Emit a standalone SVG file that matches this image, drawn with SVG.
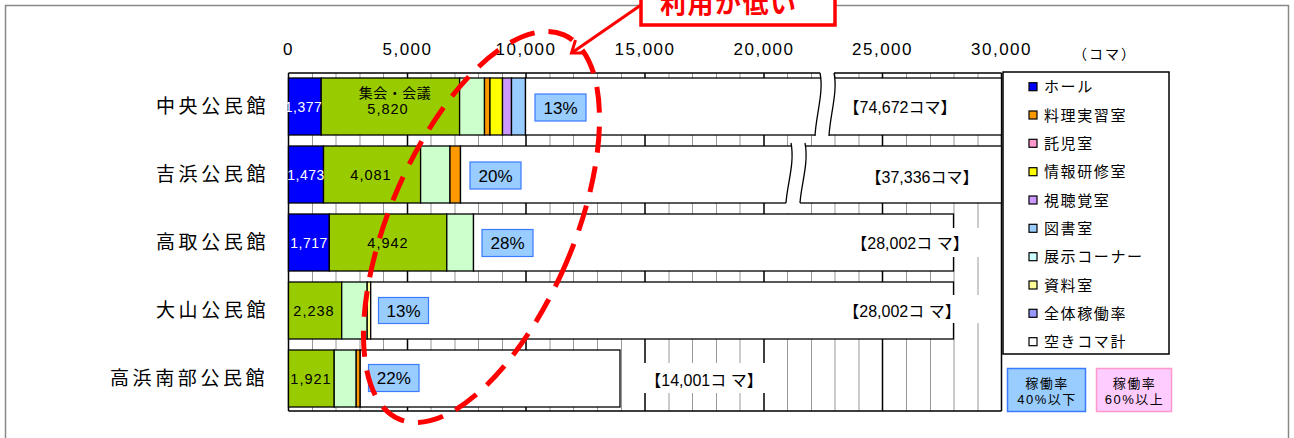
<svg xmlns="http://www.w3.org/2000/svg" width="1294" height="438" viewBox="0 0 1294 438">
<style>
text{font-family:"Liberation Sans","Noto Sans CJK JP",sans-serif;fill:#000}
.cat{font-size:19px;letter-spacing:3.6px}
.ax{font-size:17px;letter-spacing:1.5px;text-anchor:middle}
.g{stroke:#999;stroke-width:1}
.gm{stroke:#000;stroke-width:1.5}
.seg{stroke:#000;stroke-width:1.3}
.val{font-size:14.5px;letter-spacing:1px;text-anchor:middle}
.wt{fill:#fff}
.pct rect{fill:#99CCFF;stroke:#3A7BFF;stroke-width:1.2}
.pct text{font-size:17px;text-anchor:middle}
.tot{font-size:16px;text-anchor:middle}
.leg text{font-size:15px;letter-spacing:1.6px}
.mk{stroke:#000;stroke-width:1.2}
.brk{fill:none;stroke:#000;stroke-width:1.3}
.red{stroke:#FF0000;fill:none}
</style>
<rect x="5.5" y="5.5" width="1283" height="440" fill="#fff" stroke="#888" stroke-width="1.5"/>

<g id="axis-labels">
<text class="ax" x="288.5" y="55">0</text>
<text class="ax" x="407.5" y="55">5,000</text>
<text class="ax" x="526" y="55">10,000</text>
<text class="ax" x="645" y="55">15,000</text>
<text class="ax" x="764" y="55">20,000</text>
<text class="ax" x="882.5" y="55">25,000</text>
<text class="ax" x="1001.5" y="55">30,000</text>
<text x="1105" y="59" style="font-size:14px;letter-spacing:2px;text-anchor:middle">（コマ）</text>
</g>

<g id="grid">
<path class="g" d="M312.5 73V411M336 73V411M360 73V411M383.5 73V411M431 73V411M455 73V411M478.5 73V411M502.5 73V411M550 73V411M573.5 73V411M597.5 73V411M621.5 73V411M669 73V411M692.5 73V411M716.5 73V411M740 73V411M787.5 73V411M811.5 73V411M835 73V411M859 73V411M906.5 73V411M930.5 73V411M954 73V411M978 73V411"/>
<path class="gm" d="M288.5 73V411M407.5 73V411M526 73V411M645 73V411M764 73V411M882.5 73V411M1001.5 73V411M288.5 73H1001.5M288.5 411H1001.5"/>
</g>

<g id="labels">
<text class="cat" x="156" y="113">中央公民館</text>
<text class="cat" x="156" y="181">吉浜公民館</text>
<text class="cat" x="156" y="249">高取公民館</text>
<text class="cat" x="156" y="317">大山公民館</text>
<text class="cat" x="110" y="385">高浜南部公民館</text>
</g>

<g id="row-chuo">
<rect class="seg" x="288.5" y="78" width="32.7" height="57" fill="#0000FF"/>
<rect class="seg" x="321.2" y="78" width="138.4" height="57" fill="#99CC00"/>
<rect class="seg" x="459.6" y="78" width="24.9" height="57" fill="#CCFFCC"/>
<rect class="seg" x="484.5" y="78" width="5.5" height="57" fill="#FF9900"/>
<rect class="seg" x="490" y="78" width="12.5" height="57" fill="#FFFF00"/>
<rect class="seg" x="502.5" y="78" width="9" height="57" fill="#CC99FF"/>
<rect class="seg" x="511.5" y="78" width="14" height="57" fill="#99CCFF"/>
<rect class="seg" x="525.5" y="78" width="476" height="57" fill="#fff"/>
<path d="M820 72C824 92 816 115 815 136L815 143L829 143L829 136C830 115 838 92 834 72Z" fill="#fff"/>
<path class="brk" d="M820 73C824 92 816 115 815 136M834 73C838 92 830 115 829 136"/>
<text class="val wt" x="303.5" y="112" style="font-size:14px;letter-spacing:0.5px">1,377</text>
<text class="val" x="395" y="98" style="font-size:14px;letter-spacing:0.5px">集会・会議</text>
<text class="val" x="388" y="113.5">5,820</text>
<g class="pct"><rect x="535" y="94" width="51" height="27"/><text x="560.5" y="113.5">13%</text></g>
<text class="tot" x="900" y="113">【74,672コマ】</text>
</g>

<g id="row-yoshihama">
<rect class="seg" x="288.5" y="146" width="35" height="57" fill="#0000FF"/>
<rect class="seg" x="323.5" y="146" width="97.1" height="57" fill="#99CC00"/>
<rect class="seg" x="420.6" y="146" width="29.4" height="57" fill="#CCFFCC"/>
<rect class="seg" x="450" y="146" width="10.5" height="57" fill="#FF9900"/>
<rect class="seg" x="460.5" y="146" width="541" height="57" fill="#fff"/>
<path d="M791 142C795 163 787 185 786 204L786 213L800 213L800 204C801 185 809 163 805 142Z" fill="#fff"/>
<path class="brk" d="M791 143C795 163 787 185 786 203M805 143C809 163 801 185 800 203"/>
<text class="val wt" x="306" y="180" style="font-size:14px;letter-spacing:0.5px">1,473</text>
<text class="val" x="371" y="180">4,081</text>
<g class="pct"><rect x="470" y="162" width="51" height="27"/><text x="495.5" y="181.5">20%</text></g>
<text class="tot" x="922" y="182.5">【37,336コマ】</text>
</g>

<g id="row-takatori">
<rect class="seg" x="288.5" y="214" width="40.8" height="57" fill="#0000FF"/>
<rect class="seg" x="329.3" y="214" width="117.5" height="57" fill="#99CC00"/>
<rect class="seg" x="446.8" y="214" width="26.7" height="57" fill="#CCFFCC"/>
<rect class="seg" x="473.5" y="214" width="480" height="57" fill="#fff"/>
<text class="val wt" x="309" y="248" style="font-size:14px;letter-spacing:0.5px">1,717</text>
<text class="val" x="388" y="248">4,942</text>
<g class="pct"><rect x="482" y="229.5" width="51" height="27"/><text x="507.5" y="249">28%</text></g>
<rect x="846" y="228" width="134" height="29" fill="#fff"/>
<text class="tot" x="910" y="249">【28,002コ マ】</text>
</g>

<g id="row-oyama">
<rect class="seg" x="288.5" y="282" width="53.2" height="57" fill="#99CC00"/>
<rect class="seg" x="341.7" y="282" width="25.5" height="57" fill="#CCFFCC"/>
<rect class="seg" x="367.2" y="282" width="3.5" height="57" fill="#FFFF99"/>
<rect class="seg" x="370.7" y="282" width="582.8" height="57" fill="#fff"/>
<text class="val" x="314" y="316">2,238</text>
<g class="pct"><rect x="378.5" y="297.5" width="50" height="26"/><text x="403.5" y="316.5">13%</text></g>
<rect x="836" y="295" width="144" height="28" fill="#fff"/>
<text class="tot" x="902" y="317">【28,002コ マ】</text>
</g>

<g id="row-takahama-nanbu">
<rect class="seg" x="288.5" y="350" width="45.7" height="57" fill="#99CC00"/>
<rect class="seg" x="334.2" y="350" width="22" height="57" fill="#CCFFCC"/>
<rect class="seg" x="356.2" y="350" width="4" height="57" fill="#FF9900"/>
<rect class="seg" x="360.2" y="350" width="259.8" height="57" fill="#fff"/>
<text class="val" x="311" y="384">1,921</text>
<g class="pct"><rect x="368.5" y="364.5" width="50.5" height="27"/><text x="393.75" y="384">22%</text></g>
<rect x="638" y="363" width="134" height="30" fill="#fff"/>
<text class="tot" x="704" y="386">【14,001コ マ】</text>
</g>

<g id="legend" class="leg">
<rect x="1003" y="72" width="166" height="282" fill="#fff" stroke="#000" stroke-width="1.5"/>
<rect class="mk" x="1029" y="82.7" width="8" height="8" fill="#0000FF"/><text x="1044" y="92.2">ホール</text>
<rect class="mk" x="1029" y="111" width="8" height="8" fill="#FF9900"/><text x="1044" y="120.5">料理実習室</text>
<rect class="mk" x="1029" y="139.3" width="8" height="8" fill="#FF99CC"/><text x="1044" y="148.8">託児室</text>
<rect class="mk" x="1029" y="167.7" width="8" height="8" fill="#FFFF00"/><text x="1044" y="177.2">情報研修室</text>
<rect class="mk" x="1029" y="196" width="8" height="8" fill="#CC99FF"/><text x="1044" y="205.5">視聴覚室</text>
<rect class="mk" x="1029" y="224.3" width="8" height="8" fill="#99CCFF"/><text x="1044" y="233.8">図書室</text>
<rect class="mk" x="1029" y="252.7" width="8" height="8" fill="#CCFFFF"/><text x="1044" y="262.2">展示コーナー</text>
<rect class="mk" x="1029" y="281" width="8" height="8" fill="#FFFF99"/><text x="1044" y="290.5">資料室</text>
<rect class="mk" x="1029" y="309.3" width="8" height="8" fill="#9999FF"/><text x="1044" y="318.8">全体稼働率</text>
<rect class="mk" x="1029" y="337.7" width="8" height="8" fill="#FFFFFF"/><text x="1044" y="347.2">空きコマ計</text>
</g>

<g id="key-low">
<rect x="1007.5" y="368.5" width="78" height="43" fill="#99CCFF" stroke="#3A7BFF" stroke-width="1.5"/>
<text x="1047" y="388" style="font-size:13px;letter-spacing:1.5px;text-anchor:middle">稼働率</text>
<text x="1047" y="404" style="font-size:13px;letter-spacing:1.5px;text-anchor:middle">40%以下</text>
</g>
<g id="key-high">
<rect x="1096.5" y="368.5" width="75" height="43" fill="#FFCCFF" stroke="#FF99CC" stroke-width="1.5"/>
<text x="1134.5" y="388" style="font-size:13px;letter-spacing:1.5px;text-anchor:middle">稼働率</text>
<text x="1134.5" y="404" style="font-size:13px;letter-spacing:1.5px;text-anchor:middle">60%以上</text>
</g>

<g id="highlight">
<ellipse class="red" cx="481.5" cy="227" rx="92" ry="209" transform="rotate(23.2 481.5 227)" stroke-width="5" stroke-dasharray="26 14"/>
</g>

<g id="connectors">
<path class="red" d="M641 5L571.5 53" stroke-width="3"/>
<path class="red" d="M585 53L571.5 53L575.5 40" stroke-width="3"/>
</g>

<g id="callout">
<rect x="641" y="-10" width="194" height="35" fill="#fff" stroke="#FF0000" stroke-width="3.5"/>
<text x="660" y="13" style="font-size:26px;font-weight:bold;letter-spacing:1.5px;fill:#FF0000">利用が低い</text>
</g>
</svg>
